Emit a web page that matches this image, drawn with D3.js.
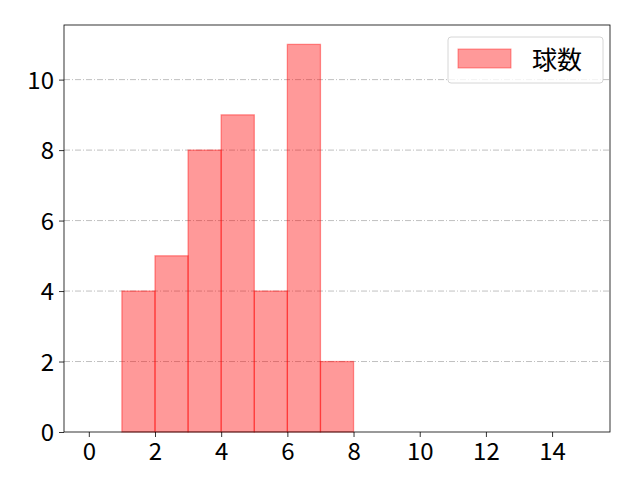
<!DOCTYPE html>
<html>
<head>
<meta charset="utf-8">
<script src="https://cdn.jsdelivr.net/npm/d3@7"></script>
<style>
  body { margin: 0; background: #fff; }
  text { font-family: "Noto Sans CJK JP", "DejaVu Sans", sans-serif; }
</style>
</head>
<body>
<div id="chart"></div>
<script>
// histogram bins (left edge) and counts
const binStarts = [1, 2, 3, 4, 5, 6, 7];
const counts = [4, 5, 8, 9, 4, 11, 2];
const binWidth = 1;
const xTicks = [0, 2, 4, 6, 8, 10, 12, 14];
const yTicks = [0, 2, 4, 6, 8, 10];
const seriesName = "球数";

function init() {
  const margin = { top: 25, right: 30, bottom: 48, left: 64 },
    width = 640 - margin.left - margin.right,
    height = 480 - margin.top - margin.bottom;

  const svg = d3.select("#chart")
    .append("svg")
    .attr("width", 640)
    .attr("height", 480)
    .append("g")
    .attr("transform", "translate(" + margin.left + "," + margin.top + ")");

  const x = d3.scaleLinear().domain([-0.75, 15.75]).range([0, width]);
  const y = d3.scaleLinear().domain([0, 11 * 1.05]).range([height, 0]);

  // grid lines
  svg.append("g")
    .selectAll("line")
    .data(yTicks.filter(d => d > 0))
    .enter().append("line")
    .attr("x1", 0).attr("x2", width)
    .attr("y1", d => y(d)).attr("y2", d => y(d))
    .attr("stroke", "#b0b0b0")
    .attr("stroke-width", 0.8)
    .attr("stroke-dasharray", "6,2,1,2");

  // bars
  svg.append("g")
    .selectAll("rect")
    .data(binStarts)
    .enter().append("rect")
    .attr("x", (d) => x(d))
    .attr("y", (d, i) => y(counts[i]))
    .attr("width", d => x(d + binWidth) - x(d))
    .attr("height", (d, i) => y(0) - y(counts[i]))
    .attr("fill", "rgba(255,0,0,0.4)")
    .attr("stroke", "rgba(255,0,0,0.4)")
    .attr("stroke-width", 1.3);

  // axes
  const xAxis = svg.append("g")
    .attr("transform", "translate(0," + height + ")")
    .call(d3.axisBottom(x).tickValues(xTicks).tickSize(5).tickPadding(4));
  const yAxis = svg.append("g")
    .call(d3.axisLeft(y).tickValues(yTicks).tickSize(5).tickPadding(5));
  [xAxis, yAxis].forEach(a => {
    a.select(".domain").remove();
    a.selectAll("line").attr("stroke", "#000").attr("stroke-width", 0.8);
    a.selectAll("text").attr("font-size", "24px").attr("fill", "#000")
      .style("font-family", "'Noto Sans CJK JP', sans-serif");
  });
  xAxis.selectAll("text").attr("dy", "0.78em");
  yAxis.selectAll("text").attr("dy", "0.36em");

  // frame
  svg.append("rect")
    .attr("width", width).attr("height", height)
    .attr("fill", "none").attr("stroke", "#000").attr("stroke-width", 0.8);

  // legend
  const lg = svg.append("g").attr("transform", "translate(" + (width - 162) + ",12)");
  lg.append("rect")
    .attr("width", 155).attr("height", 46).attr("rx", 3)
    .attr("fill", "rgba(255,255,255,0.8)")
    .attr("stroke", "#cccccc").attr("stroke-width", 0.8);
  lg.append("rect")
    .attr("x", 10).attr("y", 12).attr("width", 53).attr("height", 19)
    .attr("fill", "rgba(255,0,0,0.4)")
    .attr("stroke", "rgba(255,0,0,0.4)");
  lg.append("text")
    .attr("x", 84).attr("y", 32)
    .attr("font-size", "25px")
    .text(seriesName);
}

window.onload = init;
</script>
</body>
</html>
